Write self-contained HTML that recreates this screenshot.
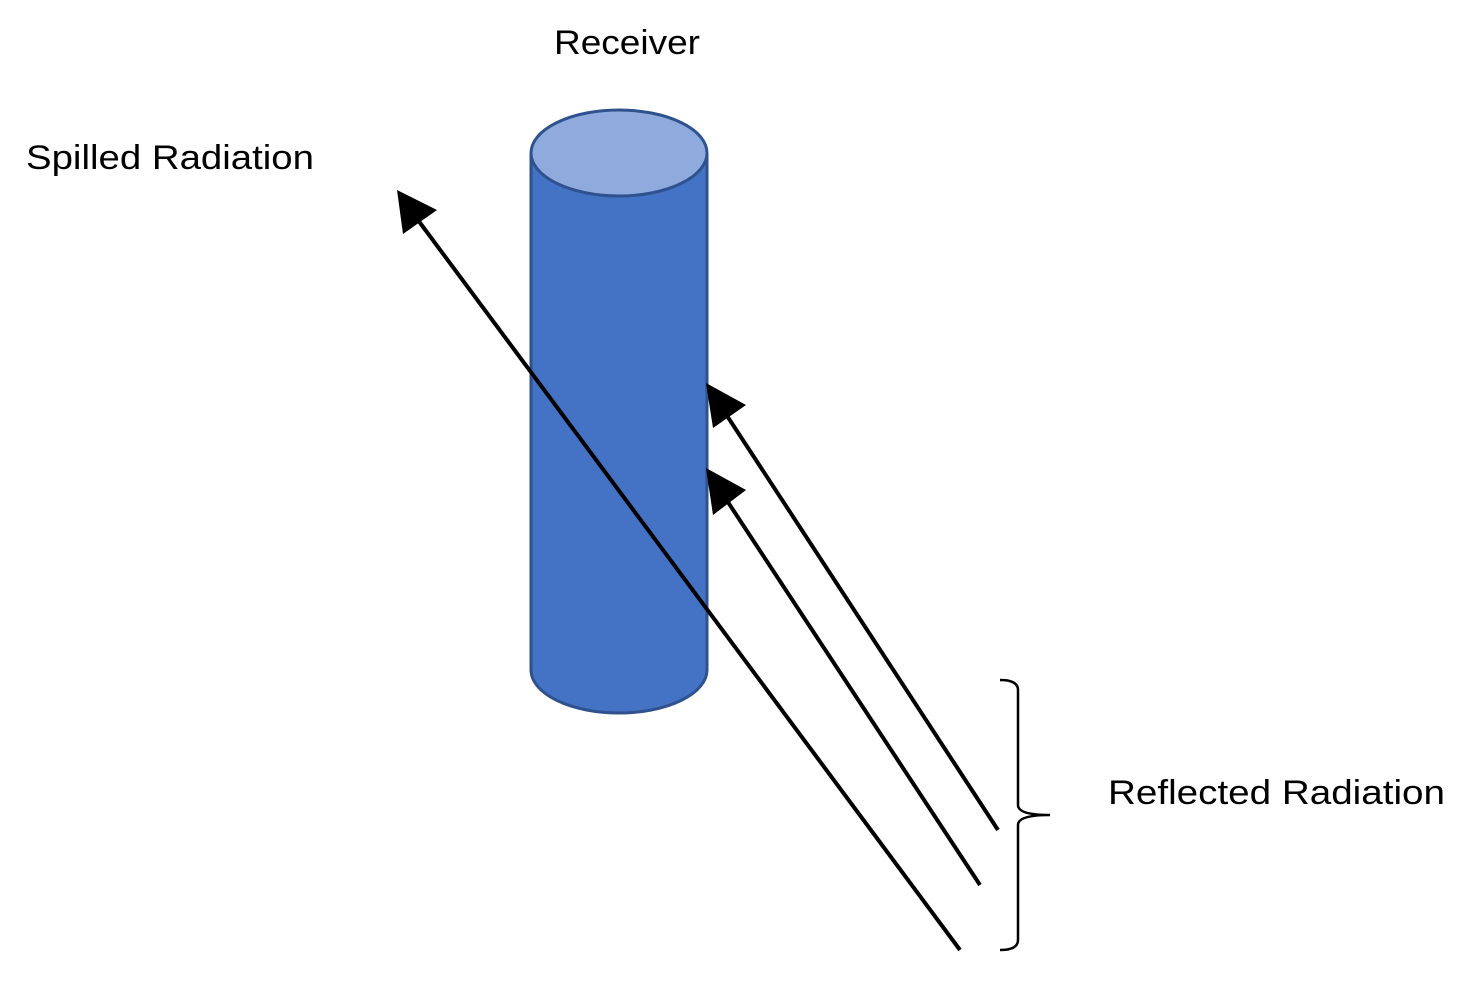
<!DOCTYPE html>
<html><head><style>
html,body{margin:0;padding:0;background:#fff;}
svg{display:block;}
text{font-family:"Liberation Sans",sans-serif;font-size:34px;fill:#000;}
</style></head><body>
<svg width="1473" height="982" viewBox="0 0 1473 982" xmlns="http://www.w3.org/2000/svg">
<path d="M531,155 L531,670 A88,43 0 0 0 707,670 L707,155 Z" fill="#4472C4" stroke="#2F528F" stroke-width="3"/>
<ellipse cx="619" cy="153" rx="88" ry="43" fill="#8FAADC" stroke="#2F528F" stroke-width="3"/>
<g stroke="#000" stroke-width="4" fill="none">
<line x1="960" y1="950" x2="412" y2="212"/>
<line x1="998" y1="830" x2="718" y2="402"/>
<line x1="980" y1="885" x2="718" y2="487"/>
</g>
<g fill="#000">
<polygon points="397,190 437,210 403,234"/>
<polygon points="706,383 746,405 713,428"/>
<polygon points="706,468 746,490 713,515"/>
</g>
<path d="M1000,680 Q1018,680 1018,690 L1018,805 Q1018,815 1050,815 Q1018,815 1018,825 L1018,940 Q1018,950 1000,950" stroke="#000" stroke-width="2.5" fill="none"/>
<text x="554" y="54" textLength="146" lengthAdjust="spacingAndGlyphs">Receiver</text>
<text x="26" y="169" textLength="288" lengthAdjust="spacingAndGlyphs">Spilled Radiation</text>
<text x="1108" y="804" textLength="337" lengthAdjust="spacingAndGlyphs">Reflected Radiation</text>
</svg>
</body></html>
